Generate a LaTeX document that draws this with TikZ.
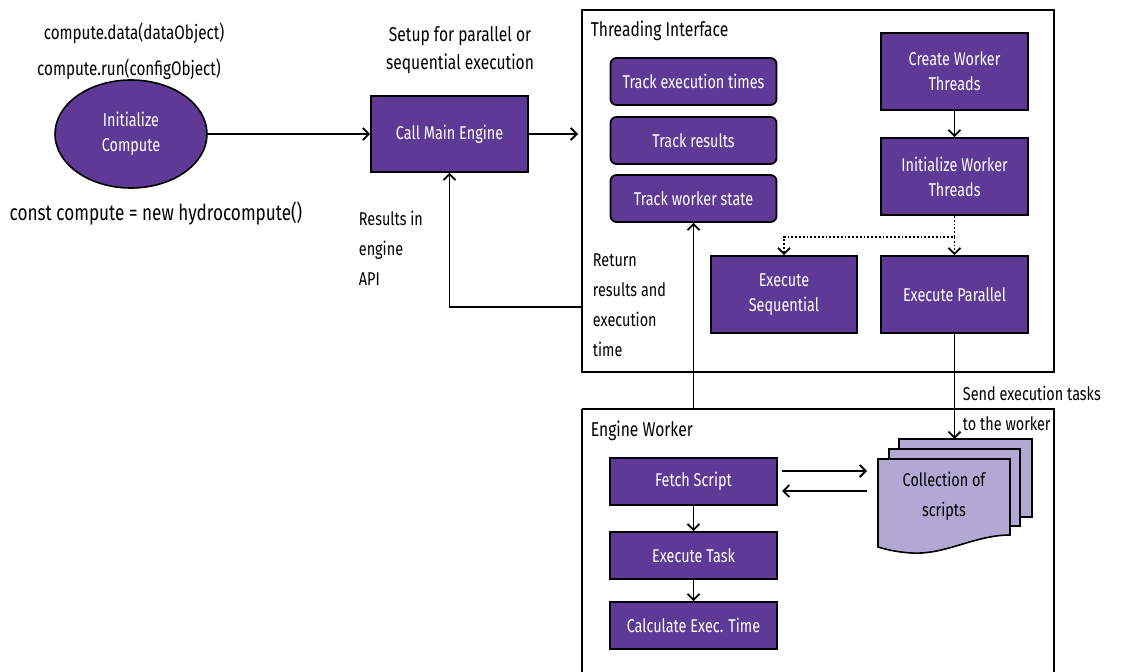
\documentclass[tikz,border=0pt]{standalone}
\usepackage{fontspec}
\setmainfont[FakeStretch=0.78]{Fira Sans}
\usetikzlibrary{arrows.meta}
\usetikzlibrary{shapes.geometric}

\definecolor{boxpurple}{HTML}{5E3A96}
\definecolor{doclilac}{HTML}{B1A8D3}

\tikzset{
  flow/.style={line width=1.8pt, -{Straight Barb[length=6pt,width=12pt]}},
  stepbox/.style={draw=black, line width=1.8pt, fill=boxpurple, text=white, align=center,
    inner sep=0pt, font=\fontsize{18.5}{25}\selectfont},
  trackbox/.style={stepbox, rounded corners=6pt},
  note/.style={align=left, anchor=west, inner sep=0pt, font=\fontsize{18.5}{30}\selectfont},
  frametitle/.style={anchor=west, inner sep=0pt, font=\fontsize{20}{22}\selectfont},
  paper/.style={draw=black, line width=1.6pt, fill=doclilac}
}

\begin{document}
\begin{tikzpicture}[x=1pt, y=-1pt, line width=1.8pt]
\useasboundingbox (0,0) rectangle (1141,672);

%% start of the run
\node[ellipse, draw=black, line width=1.6pt, fill=boxpurple, text=white, align=center,
  minimum width=152pt, minimum height=108pt, font=\fontsize{18.5}{25}\selectfont]
  (init) at (131,134) {Initialize\\Compute};
\node[font=\fontsize{19.5}{20}\selectfont] (datacall) at (134,33) {compute.data(dataObject)};
\node[font=\fontsize{19.5}{20}\selectfont] (runcall) at (129,69) {compute.run(configObject)};
\node[font=\fontsize{22}{22}\selectfont] (ctor) at (156,214) {const compute = new hydrocompute()};

\node[stepbox, minimum width=157pt, minimum height=76pt] (engine) at (449.5,134) {Call Main Engine};
\node[align=center, font=\fontsize{20}{28}\selectfont] (setup) at (460,50) {Setup for parallel or\\sequential execution};
\node[note] (api) at (358,248) {Results in\\engine\\API};

%% threading interface
\draw[line width=1.8pt] (582,10) rectangle (1054,372);
\node[frametitle] (thtitle) at (590,31) {Threading Interface};
\node[trackbox, minimum width=166pt, minimum height=47pt] (ttimes) at (693.5,81.5) {Track execution times};
\node[trackbox, minimum width=166pt, minimum height=47pt] (tres) at (693.5,140.5) {Track results};
\node[trackbox, minimum width=166pt, minimum height=47pt] (tstate) at (693.5,198.5) {Track worker state};
\node[stepbox, minimum width=147pt, minimum height=77pt] (create) at (954.5,71.5) {Create Worker\\Threads};
\node[stepbox, minimum width=147pt, minimum height=77pt] (initw) at (954.5,176.5) {Initialize Worker\\Threads};
\node[stepbox, minimum width=146pt, minimum height=77pt] (seq) at (784,294.5) {Execute\\Sequential};
\node[stepbox, minimum width=147pt, minimum height=77pt] (par) at (954.5,294.5) {Execute Parallel};
\node[note] (ret) at (592,305) {Return\\results and\\execution\\time};

%% engine worker
\draw[line width=1.8pt] (582,409) -- (582,680) (582,409) -- (1054,409) -- (1054,680);
\node[frametitle] (ewtitle) at (590,431) {Engine Worker};
\node[stepbox, minimum width=167pt, minimum height=47pt] (fetch) at (693.5,481.5) {Fetch Script};
\node[stepbox, minimum width=167pt, minimum height=47pt] (task) at (693.5,555.5) {Execute Task};
\node[stepbox, minimum width=167pt, minimum height=47pt] (calc) at (693.5,625.5) {Calculate Exec. Time};

%% stack of scripts
\draw[paper] (899,439) -- (1032,439) -- (1032,517) -- (1020,517) -- (1020,449) -- (899,449) -- cycle;
\draw[paper] (889,449) -- (1020,449) -- (1020,526) -- (1010,526) -- (1010,459) -- (889,459) -- cycle;
\draw[paper] (878,459) -- (1010,459) -- (1010,535)
  .. controls (975,535) and (945,555) .. (912,553)
  .. controls (895,552) and (885,549) .. (878,547) -- cycle;
\node[align=center, font=\fontsize{18.5}{30}\selectfont] (scripts) at (944,496) {Collection of\\scripts};
\coordinate (stacktop) at (954.5,439);
\node[note] (send) at (962,408) {Send execution tasks\\to the worker};

%% connectors
\draw[flow] (init) -- (engine);
\draw[flow] (engine.east) -- (578,134);
\draw[flow] (create) -- (initw);
\draw[dotted, flow] (initw.south) -- ++(0,21) coordinate (split) -| (seq.north);
\draw[dotted, flow] (split) -- (par.north);
\coordinate (retout) at (582,307);
\draw[flow] (retout) -| (engine.south);
\coordinate (ewtop) at (693.5,409);
\draw[flow] (ewtop) -- (tstate.south);
\draw[flow] (par.south) -- (stacktop);
\draw[flow] (fetch) -- (task);
\draw[flow] (task) -- (calc);
\coordinate (fetchout) at (782,471);
\coordinate (stackin) at (867,471);
\coordinate (stackout) at (867,491);
\coordinate (fetchin) at (782,491);
\draw[flow] (fetchout) -- (stackin);
\draw[flow] (stackout) -- (fetchin);
\end{tikzpicture}
\end{document}
